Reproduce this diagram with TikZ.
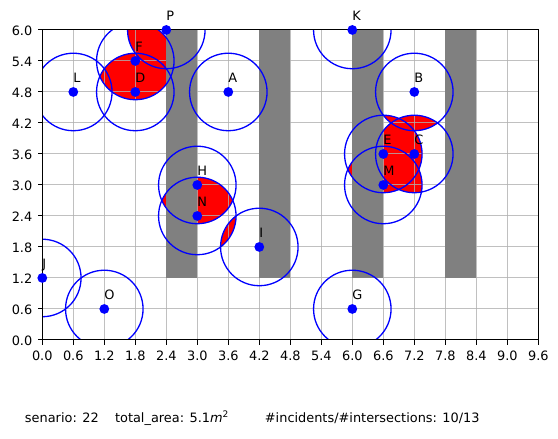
\documentclass[tikz,border=0pt]{standalone}
\usepackage{fontspec}
\setmainfont{DejaVu Sans}
\definecolor{mplblue}{RGB}{0,0,255}
\definecolor{mplred}{RGB}{255,0,0}
\definecolor{bargrey}{RGB}{128,128,128}
\definecolor{gridgrey}{RGB}{176,176,176}
\begin{document}
\begin{tikzpicture}[x=51.67pt,y=51.67pt,
  txt/.style={inner sep=0pt, outer sep=0pt, font=\fontsize{12.9}{15}\selectfont},
  ring/.style={draw=mplblue, line width=1.3pt},
  lens/.style={fill=mplred},
  gridline/.style={draw=gridgrey, line width=1pt, opacity=0.8},
  obstacle/.style={fill=bargrey},
  frameline/.style={draw=black, line width=1pt},
  tickline/.style={draw=black, line width=1pt},
  dotmark/.style={circle, fill=mplblue, inner sep=0pt, minimum size=9.8pt},
  ptlabel/.style={txt, anchor=base west}]
\useasboundingbox (-0.8187,-1.916) rectangle (9.981,6.58);

% points
\foreach \n/\x/\y in {A/3.6/4.8, B/7.2/4.8, C/7.2/3.6, D/1.8/4.8, E/6.6/3.6,
  F/1.8/5.4, G/6.0/0.6, H/3.0/3.0, I/4.2/1.8, J/0.0/1.2, K/6.0/6.0,
  L/0.6/4.8, M/6.6/3.0, N/3.0/2.4, O/1.2/0.6, P/2.4/6.0}
  \coordinate (\n) at (\x,\y);

% red intersection areas
\begin{scope}
  \clip (0,0) rectangle (9.6,6);
  \foreach \p/\q in {B/C, B/E, C/E, C/M, D/F, D/P, E/M, F/P, H/N, I/N} {
    \begin{scope}
      \clip (\p) circle (0.75);
      \fill[lens] (\q) circle (0.75);
    \end{scope}
  }
\end{scope}

% grid
\foreach \i in {0,...,16} \draw[gridline] (0.6*\i,0) -- (0.6*\i,6);
\foreach \j in {0,...,10} \draw[gridline] (0,0.6*\j) -- (9.6,0.6*\j);

% obstacles
\fill[obstacle] (2.4,1.2) rectangle (3.0,6.0);
\fill[obstacle] (4.2,1.2) rectangle (4.8,6.0);
\fill[obstacle] (6.0,1.2) rectangle (6.6,6.0);
\fill[obstacle] (7.8,1.2) rectangle (8.4,6.0);

% coverage circles
\begin{scope}
  \clip (0,0) rectangle (9.6,6);
  \foreach \n in {A,B,C,D,E,F,G,H,I,J,K,L,M,N,O,P}
    \draw[ring] (\n) circle (0.75);
\end{scope}

% frame and ticks
\draw[frameline] (0,0) rectangle (9.6,6);
\foreach \v [count=\k] in {0.0,0.6,1.2,1.8,2.4,3.0,3.6,4.2,4.8,5.4,6.0,6.6,7.2,7.8,8.4,9.0,9.6} {
  \draw[tickline] (\v,0) -- (\v,-0.09);
  \node[txt, anchor=base] (xt\k) at (\v,-0.40) {\v};
}
\foreach \v [count=\k] in {0.0,0.6,1.2,1.8,2.4,3.0,3.6,4.2,4.8,5.4,6.0} {
  \draw[tickline] (0,\v) -- (-0.09,\v);
  \node[txt, anchor=east] (yt\k) at (-0.194,\v-0.02) {\v};
}

% dots and labels
\foreach \n in {A,B,C,D,E,F,G,H,I,J,K,L,M,N,O,P} {
  \node[dotmark] (d\n) at (\n) {};
  \node[ptlabel] (l\n) at ([yshift=9.3pt]\n) {\n};
}

% caption
\node[txt, anchor=base west] (cap1) at (-0.335,-1.606) {senario: 22};
\node[txt, anchor=base west] (cap2) at (1.408,-1.606) {total\_area: 5.1\textit{m}\raisebox{0.42em}{\fontsize{9}{9}\selectfont 2}};
\node[txt, anchor=base west] (cap3) at (4.309,-1.606) {\#incidents/\#intersections: 10/13};
\end{tikzpicture}
\end{document}
